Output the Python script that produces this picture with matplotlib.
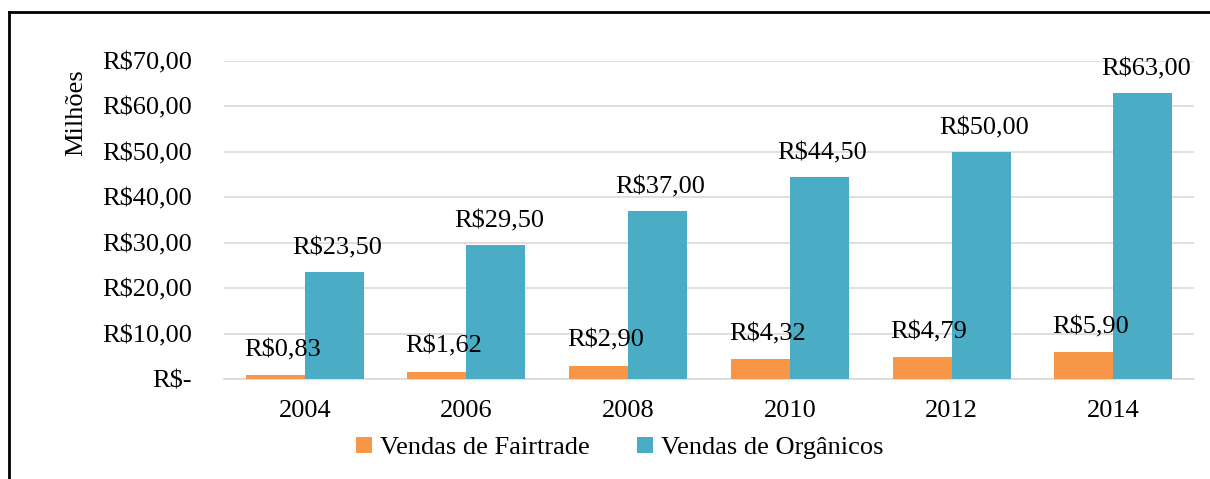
import numpy as np
import matplotlib.pyplot as plt
from matplotlib.lines import Line2D

plt.rcParams["font.family"] = ["Liberation Serif", "DejaVu Serif"]

# ---------- Data ----------
years = ["2004", "2006", "2008", "2010", "2012", "2014"]
fairtrade = [0.83, 1.62, 2.90, 4.32, 4.79, 5.90]
organicos = [23.50, 29.50, 37.00, 44.50, 50.00, 63.00]
yticks = [0, 10, 20, 30, 40, 50, 60, 70]

C_FAIR = "#F79646"
C_ORG = "#4BACC6"


def brl(v):
    if v == 0:
        return "R$-"
    return "R$" + f"{v:.2f}".replace(".", ",")


fig = plt.figure(figsize=(12.10, 4.79), dpi=100)
ax = fig.add_axes([0.185, 0.2088, 0.802, 0.6639])

x = np.arange(len(years))
w = 0.365
ax.bar(x - w / 2, fairtrade, w, color=C_FAIR, label="Vendas de Fairtrade", zorder=3)
ax.bar(x + w / 2, organicos, w, color=C_ORG, label="Vendas de Orgânicos", zorder=3)

fs = 19
for xi, v in zip(x, fairtrade):
    ax.annotate(brl(v), (xi - w / 2, v), textcoords="offset points", xytext=(5, 10),
                ha="center", va="bottom", fontsize=fs, zorder=4)
for xi, v in zip(x, organicos):
    ax.annotate(brl(v), (xi + w / 2, v), textcoords="offset points", xytext=(2, 9),
                ha="center", va="bottom", fontsize=fs, zorder=4)

ax.set_xlim(-0.5, len(years) - 0.5)
ax.set_ylim(0, 70)
ax.set_yticks(yticks)
ax.set_yticklabels([brl(v) for v in yticks], fontsize=fs)
ax.set_xticks(x)
ax.set_xticklabels(years, fontsize=fs)
ax.tick_params(length=0)
ax.tick_params(axis="x", pad=15)
ax.tick_params(axis="y", pad=23)
ax.grid(axis="y", color="#D9D9D9", lw=1.2, zorder=0)
for s in ["top", "right", "left"]:
    ax.spines[s].set_visible(False)
ax.spines["bottom"].set_color("#D9D9D9")
ax.spines["bottom"].set_linewidth(1.2)

fig.text(0.063, 0.765, "Milhões", rotation=90, ha="center", va="center", fontsize=fs)

fig.legend(loc="center", bbox_to_anchor=(0.512, 0.0647), ncol=2, frameon=False,
           fontsize=fs, handlelength=0.6, handleheight=0.6, handletextpad=0.3,
           columnspacing=1.8)

# outer frame (left and top edges)
fig.add_artist(Line2D([0.0075, 0.0075], [0, 0.975], color="black", lw=2, transform=fig.transFigure))
fig.add_artist(Line2D([0.0075, 1.0], [0.975, 0.975], color="black", lw=2, transform=fig.transFigure))

fig.savefig("out.png", dpi=100)
